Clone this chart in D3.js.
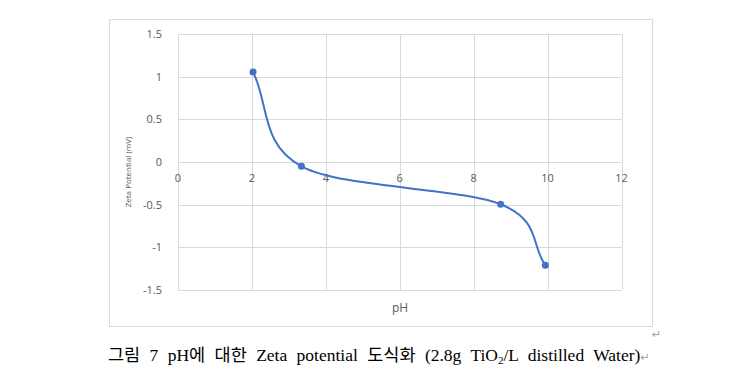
<!DOCTYPE html>
<html>
<head>
<meta charset="utf-8">
<script src="https://cdn.jsdelivr.net/npm/d3@7"></script>
<style>
  body { margin: 0; background: #fff; }
  svg { display: block; }
</style>
</head>
<body>
<svg id="chart"></svg>
<script>
var w = 750; // Width of the SVG element
var h = 368; // Height of the SVG element

// data
var phValues = [2.03, 3.34, 8.73, 9.94];
var zetaValues = [1.055, -0.05, -0.495, -1.21];
var xTicks = [0, 2, 4, 6, 8, 10, 12];
var yTicks = [1.5, 1, 0.5, 0, -0.5, -1, -1.5];

var data = phValues.map(function(d, i) { return { ph: d, zeta: zetaValues[i] }; });

var svg = d3.select("#chart")
  .attr("width", w)
  .attr("height", h);

// chart frame
svg.append("rect")
  .attr("x", 109.5)
  .attr("y", 19.5)
  .attr("width", 543)
  .attr("height", 307)
  .attr("fill", "#fff")
  .attr("stroke", "#d9d9d9");

var xScale = d3.scaleLinear().domain([0, 12]).range([178, 621.5]);
var yScale = d3.scaleLinear().domain([-1.5, 1.5]).range([290, 34]);

// grid lines
svg.append("g")
  .selectAll("line")
  .data(xTicks)
  .enter()
  .append("line")
  .attr("x1", d => Math.round(xScale(d)) + 0.5)
  .attr("x2", d => Math.round(xScale(d)) + 0.5)
  .attr("y1", yScale(1.5))
  .attr("y2", yScale(-1.5))
  .attr("stroke", "#d9d9d9");

svg.append("g")
  .selectAll("line")
  .data(yTicks)
  .enter()
  .append("line")
  .attr("x1", xScale(0))
  .attr("x2", xScale(12))
  .attr("y1", d => Math.round(yScale(d)) + 0.5)
  .attr("y2", d => Math.round(yScale(d)) + 0.5)
  .attr("stroke", "#d9d9d9");

// y tick labels
svg.append("g")
  .selectAll("text")
  .data(yTicks)
  .enter()
  .append("text")
  .attr("x", 162)
  .attr("y", d => yScale(d) + 4)
  .attr("text-anchor", "end")
  .attr("font-family", "Open Sans, sans-serif")
  .attr("font-size", 11)
  .attr("fill", "#595959")
  .text(d => d);

// x tick labels sit under the zero line
svg.append("g")
  .selectAll("text")
  .data(xTicks)
  .enter()
  .append("text")
  .attr("x", d => xScale(d))
  .attr("y", yScale(0) + 20)
  .attr("text-anchor", "middle")
  .attr("font-family", "Open Sans, sans-serif")
  .attr("font-size", 11)
  .attr("fill", "#595959")
  .text(d => d);

// axis titles
svg.append("text")
  .attr("transform", "translate(131,172) rotate(-90)")
  .attr("text-anchor", "middle")
  .attr("font-family", "Open Sans, sans-serif")
  .attr("font-size", 8)
  .attr("fill", "#595959")
  .text("Zeta Potential (mV)");

svg.append("text")
  .attr("x", 400)
  .attr("y", 312)
  .attr("text-anchor", "middle")
  .attr("font-family", "Open Sans, sans-serif")
  .attr("font-size", 12)
  .attr("fill", "#595959")
  .text("pH");

// excel-like smoothing: catmull-rom inside, end handles pointing at the neighbour
function excelSmooth(context) {
  var pts = [];
  return {
    areaStart: function() {},
    areaEnd: function() {},
    lineStart: function() { pts = []; },
    point: function(x, y) { pts.push([x, y]); },
    lineEnd: function() {
      var n = pts.length;
      if (!n) return;
      context.moveTo(pts[0][0], pts[0][1]);
      for (var i = 0; i < n - 1; i++) {
        var p0 = pts[i], p1 = pts[i + 1];
        var c1, c2;
        if (i === 0) c1 = [p0[0] + (p1[0] - p0[0]) / 3, p0[1] + (p1[1] - p0[1]) / 3];
        else c1 = [p0[0] + (p1[0] - pts[i - 1][0]) / 6, p0[1] + (p1[1] - pts[i - 1][1]) / 6];
        if (i === n - 2) c2 = [p1[0] - (p1[0] - p0[0]) / 3, p1[1] - (p1[1] - p0[1]) / 3];
        else c2 = [p1[0] - (pts[i + 2][0] - p0[0]) / 6, p1[1] - (pts[i + 2][1] - p0[1]) / 6];
        context.bezierCurveTo(c1[0], c1[1], c2[0], c2[1], p1[0], p1[1]);
      }
    }
  };
}

var line = d3.line()
  .x(d => xScale(d.ph))
  .y(d => yScale(d.zeta))
  .curve(excelSmooth);

svg.append("path")
  .datum(data)
  .attr("d", line)
  .attr("fill", "none")
  .attr("stroke", "#4472c4")
  .attr("stroke-width", 2);

svg.append("g")
  .selectAll("circle")
  .data(data)
  .enter()
  .append("circle")
  .attr("cx", d => xScale(d.ph))
  .attr("cy", d => yScale(d.zeta))
  .attr("r", 3.5)
  .attr("fill", "#4472c4");

// return marks
svg.append("text")
  .attr("x", 652)
  .attr("y", 338)
  .attr("font-family", "DejaVu Sans, sans-serif")
  .attr("font-size", 11)
  .attr("fill", "#a0a0a0")
  .text("\u21b5");

// caption
var cap = svg.append("text")
  .attr("x", 108)
  .attr("y", 361)
  .attr("font-family", "Liberation Serif, Noto Sans CJK KR, serif")
  .attr("font-size", 17.5)
  .attr("word-spacing", 5)
  .attr("fill", "#000");
cap.append("tspan").text("그림 7 pH에 대한 Zeta potential 도식화 (2.8g TiO");
cap.append("tspan").attr("font-size", 11).attr("dy", 3).text("2");
cap.append("tspan").attr("dy", -3).text("/L distilled Water)");
cap.append("tspan").attr("font-family", "DejaVu Sans, sans-serif").attr("font-size", 11).attr("fill", "#a0a0a0").text("\u21b5");
</script>
</body>
</html>
